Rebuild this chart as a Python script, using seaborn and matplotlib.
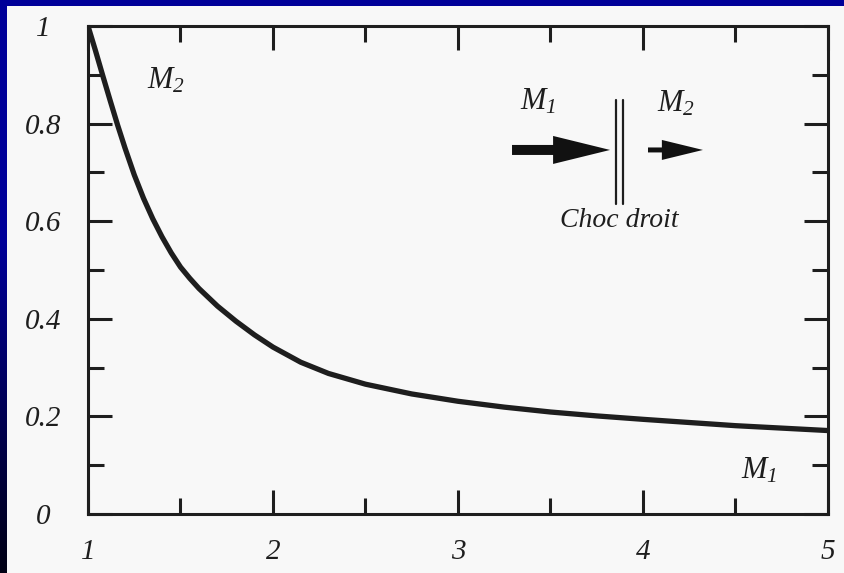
import numpy as np
import matplotlib
matplotlib.use('Agg')
import matplotlib.pyplot as plt
import seaborn as sns
from matplotlib.patches import Rectangle
from matplotlib.ticker import MultipleLocator

# ---- data ----
mach_amont = [1.0, 1.04, 1.08, 1.12, 1.16, 1.2, 1.25, 1.3, 1.35, 1.4, 1.45,
              1.5, 1.55, 1.6, 1.7, 1.8, 1.9, 2.0, 2.15, 2.3, 2.5, 2.75, 3.0,
              3.25, 3.5, 3.75, 4.0, 4.5, 5.0]
mach_aval = [1.0, 0.95, 0.898, 0.847, 0.797, 0.75, 0.695, 0.647, 0.605, 0.568,
             0.535, 0.506, 0.483, 0.462, 0.426, 0.395, 0.367, 0.342, 0.311,
             0.288, 0.266, 0.246, 0.231, 0.219, 0.209, 0.201, 0.194, 0.181,
             0.171]
x_ticks = [1, 2, 3, 4, 5]
x_labels = ['1', '2', '3', '4', '5']
y_ticks = [0, 0.2, 0.4, 0.6, 0.8, 1]
y_labels = ['0', '0.2', '0.4', '0.6', '0.8', '1']

sns.set_theme(style='ticks')
plt.rcParams['font.family'] = ['Liberation Serif', 'DejaVu Serif']
plt.rcParams['mathtext.fontset'] = 'custom'
plt.rcParams['mathtext.rm'] = 'Liberation Serif:italic'
plt.rcParams['mathtext.it'] = 'Liberation Serif:italic'

W, H = 845, 573
fig = plt.figure(figsize=(W / 100, H / 100), dpi=100)

# background: blue frame with darkening gradient, off-white panel
bg = fig.add_axes([0, 0, 1, 1], zorder=-10)
t = np.linspace(0, 1, 300)
b = np.where(t < 0.42, 0.6, 0.6 - (t - 0.42) / 0.58 * 0.52)
img = np.zeros((300, 2, 3))
img[:, :, 2] = b[:, None]
bg.imshow(img, extent=[0, 1, 0, 1], aspect='auto', origin='upper')
bg.add_patch(Rectangle((7 / W, 0), 1, 1 - 6 / H, color='#f8f8f8', lw=0))
bg.set_xlim(0, 1)
bg.set_ylim(0, 1)
bg.axis('off')

ink = '#1e1e1e'
ax = fig.add_axes([88 / W, 1 - 514 / H, (828 - 88) / W, (514 - 26) / H])
ax.patch.set_alpha(0)

sns.lineplot(x=mach_amont, y=mach_aval, ax=ax, color=ink, linewidth=3.8,
             solid_joinstyle='round', solid_capstyle='round')

ax.set_xlim(1, 5)
ax.set_ylim(0, 1)
for s in ax.spines.values():
    s.set_visible(True)
    s.set_linewidth(2.2)
    s.set_color(ink)

ax.set_xticks(x_ticks, x_labels)
ax.set_yticks(y_ticks, y_labels)
ax.xaxis.set_minor_locator(MultipleLocator(0.5))
ax.yaxis.set_minor_locator(MultipleLocator(0.1))
ax.tick_params(which='both', direction='in', top=True, right=True,
               width=2.2, color=ink, labelcolor=ink)
ax.tick_params(which='major', length=17)
ax.tick_params(which='minor', length=11.5)
ax.tick_params(axis='x', which='major', pad=18, labelsize=21)
ax.tick_params(axis='y', which='major', pad=32, labelsize=21)
for lbl in ax.get_yticklabels():
    lbl.set_ha('center')
for lbl in ax.get_xticklabels() + ax.get_yticklabels():
    lbl.set_fontstyle('italic')
ax.set_xlabel('')
ax.set_ylabel('')

# annotations
ax.text(1.32, 0.871, '$M_2$', fontsize=22, color=ink, ha='left', va='baseline')
ax.text(4.53, 0.072, '$M_1$', fontsize=22, color=ink, ha='left', va='baseline')
ax.text(3.335, 0.828, '$M_1$', fontsize=22, color=ink, ha='left', va='baseline')
ax.text(4.076, 0.824, '$M_2$', fontsize=22, color=ink, ha='left', va='baseline')
ax.text(3.87, 0.588, 'Choc droit', fontsize=20, fontstyle='italic', color=ink,
        ha='center', va='baseline')

# schematic: incoming arrow, shock, outgoing arrow
ax.arrow(3.292, 0.746, 0.53, 0, width=0.0205, head_width=0.0574,
         head_length=0.308, length_includes_head=True, color='#111111', lw=0)
ax.arrow(4.027, 0.746, 0.297, 0, width=0.0102, head_width=0.041,
         head_length=0.222, length_includes_head=True, color='#111111', lw=0)
ax.plot([3.854, 3.854], [0.635, 0.848], color=ink, lw=1.6)
ax.plot([3.892, 3.892], [0.635, 0.848], color=ink, lw=1.6)

fig.savefig('out.png', dpi=100, facecolor=fig.get_facecolor())
